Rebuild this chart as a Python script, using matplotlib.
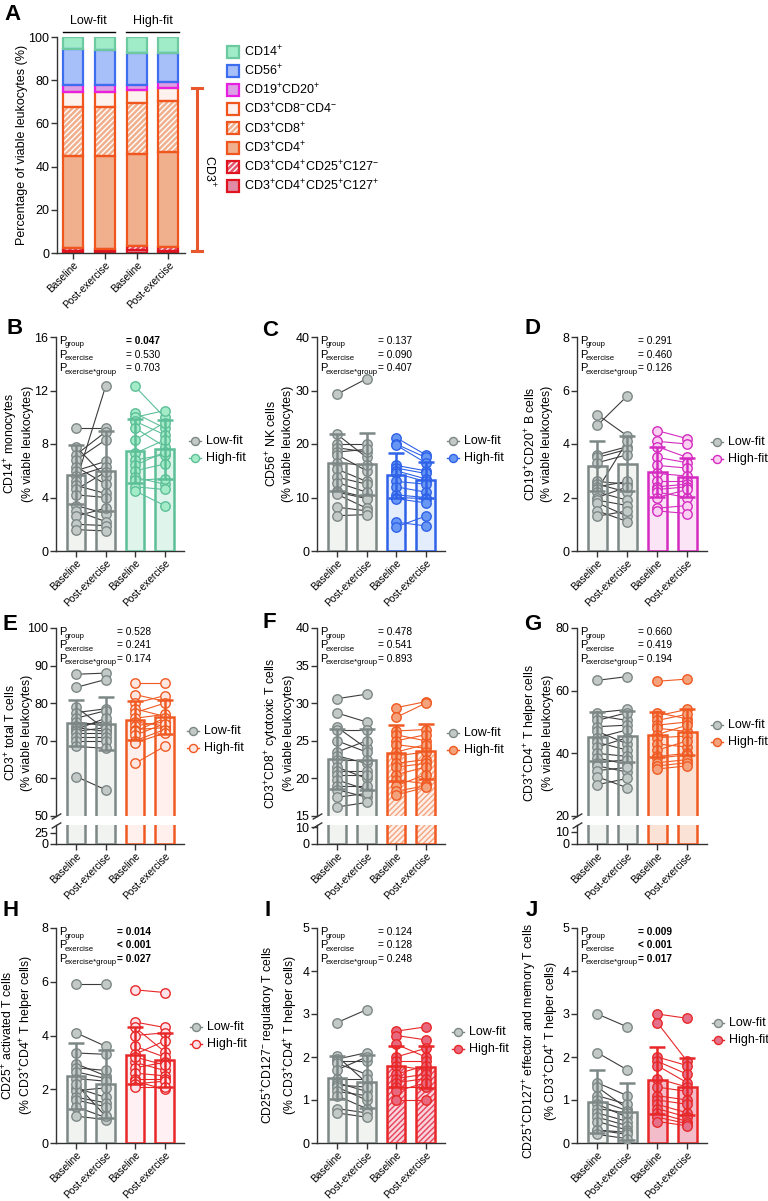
import numpy as np
import matplotlib.pyplot as plt
from matplotlib.patches import Rectangle

plt.rcParams['font.family'] = ['Liberation Sans', 'DejaVu Sans']
plt.rcParams['mathtext.fontset'] = 'custom'
plt.rcParams['mathtext.rm'] = 'Liberation Sans'
plt.rcParams['mathtext.it'] = 'Liberation Sans:italic'
plt.rcParams['mathtext.bf'] = 'Liberation Sans:bold'
plt.rcParams['hatch.linewidth'] = 1.0

W, H = 768, 1201


def rect(x0, y0, x1, y1):
    # pixel box -> figure fraction
    return [x0 / W, 1 - y1 / H, (x1 - x0) / W, (y1 - y0) / H]


def sup(s):
    return r'$^\mathregular{' + s + '}$'


# ---------------------------------------------------------------- data
timepoints = ['Baseline', 'Post-exercise', 'Baseline', 'Post-exercise']

# panel A, % of viable leukocytes, stacked bottom -> top
A_cd127pos = [0.9, 0.8, 1.2, 1.1]
A_cd127neg = [1.4, 1.1, 1.9, 1.7]
A_cd4 = [42.7, 42.9, 42.7, 43.8]
A_cd8 = [22.6, 22.9, 23.8, 23.9]
A_dn = [7.1, 7.0, 5.7, 5.7]
A_cd19 = [2.9, 2.9, 2.6, 3.0]
A_cd56 = [16.8, 16.5, 14.7, 13.4]
A_cd14 = [5.6, 5.9, 7.4, 7.4]

# panels B-J: individual subjects (baseline / post) and mean, SD per bar
B_low_base = [9.2, 7.8, 7.2, 6.8, 6.3, 6.0, 5.6, 5.2, 4.9, 4.6, 4.2, 3.4, 3.0, 2.6, 2.0, 1.6]
B_low_post = [9.2, 5.5, 8.9, 8.3, 5.0, 6.7, 6.3, 12.3, 4.3, 5.9, 4.0, 2.8, 2.2, 3.2, 1.9, 1.5]
B_high_base = [12.3, 10.3, 10.0, 9.7, 9.2, 8.3, 7.3, 6.8, 6.4, 6.0, 5.5, 5.3, 4.8, 4.5]
B_high_post = [10.0, 9.2, 10.5, 8.7, 7.8, 9.6, 8.3, 7.2, 7.4, 6.5, 5.0, 5.4, 4.6, 3.4]
B_mean = [5.7, 6.0, 7.5, 7.6]
B_sd = [2.2, 3.0, 2.4, 2.2]

C_low_base = [29.3, 21.8, 20.0, 19.3, 18.5, 18.0, 16.5, 15.3, 13.8, 12.8, 11.3, 11.0, 10.6, 8.2, 6.6]
C_low_post = [32.2, 17.5, 20.0, 18.5, 19.0, 15.0, 16.0, 13.0, 12.5, 11.0, 10.0, 9.8, 8.0, 7.5, 6.8]
C_high_base = [21.2, 20.0, 19.8, 16.0, 15.5, 15.0, 14.5, 13.0, 12.0, 10.5, 10.0, 9.8, 5.4, 4.5]
C_high_post = [18.0, 17.5, 16.5, 15.0, 14.5, 13.5, 13.0, 12.5, 11.0, 10.0, 9.8, 9.0, 4.7, 6.5]
C_mean = [16.5, 16.3, 14.2, 13.3]
C_sd = [5.3, 5.8, 4.2, 3.4]

D_low_base = [5.1, 4.7, 3.6, 3.5, 3.3, 2.6, 2.5, 2.4, 2.3, 2.2, 2.0, 1.9, 1.8, 1.5, 1.3]
D_low_post = [4.3, 5.8, 3.9, 3.8, 3.6, 2.5, 2.2, 2.6, 4.1, 1.9, 2.4, 1.7, 1.3, 1.1, 1.5]
D_high_base = [4.5, 4.1, 3.9, 3.5, 3.2, 2.9, 2.6, 2.4, 2.3, 2.2, 2.0, 1.6, 1.5]
D_high_post = [4.2, 4.0, 3.5, 3.3, 3.1, 2.8, 2.6, 2.5, 2.4, 2.0, 2.3, 1.7, 1.4]
D_mean = [3.18, 3.26, 2.96, 2.76]
D_sd = [0.92, 1.03, 0.94, 0.73]

E_low_base = [87.7, 84.2, 79.0, 77.5, 76.0, 75.0, 74.0, 73.5, 73.0, 72.5, 72.0, 71.0, 70.0, 68.5, 60.5]
E_low_post = [88.0, 86.3, 73.0, 78.5, 78.0, 74.0, 75.0, 72.5, 76.0, 73.5, 72.0, 71.0, 70.0, 68.0, 57.0]
E_high_base = [85.5, 82.3, 80.0, 78.5, 77.5, 76.0, 75.0, 74.0, 73.0, 72.5, 71.5, 70.0, 69.5, 64.0]
E_high_post = [85.5, 80.5, 82.0, 76.5, 80.0, 77.0, 74.0, 75.0, 73.5, 76.0, 74.5, 73.0, 72.0, 68.5]
E_mean = [74.7, 74.6, 75.4, 76.4]
E_sd = [6.1, 7.0, 5.2, 4.5]

F_low_base = [30.6, 28.7, 26.8, 26.5, 25.0, 23.5, 23.0, 22.5, 21.5, 21.0, 20.5, 19.8, 19.0, 18.5, 17.5, 16.2]
F_low_post = [31.2, 27.5, 24.0, 26.5, 23.5, 25.0, 22.0, 22.5, 20.0, 21.0, 20.5, 18.5, 19.0, 17.5, 18.0, 16.8]
F_high_base = [29.4, 28.1, 26.3, 25.8, 25.0, 24.5, 23.5, 23.0, 22.0, 21.5, 20.5, 19.8, 19.0, 18.3, 17.8]
F_high_post = [30.2, 30.0, 26.5, 25.0, 25.8, 24.0, 24.5, 23.5, 22.5, 22.0, 21.5, 19.3, 20.5, 19.0, 18.8]
F_mean = [22.6, 22.5, 23.4, 23.6]
F_sd = [4.0, 4.1, 3.7, 3.7]

G_low_base = [63.3, 53.0, 52.0, 50.5, 48.5, 47.0, 45.0, 43.5, 42.0, 40.0, 38.5, 37.0, 36.0, 34.5, 32.5, 30.0]
G_low_post = [64.5, 54.0, 50.5, 53.0, 49.0, 43.0, 47.5, 41.0, 45.0, 39.0, 36.5, 38.0, 34.0, 35.5, 29.0, 32.0]
G_high_base = [63.0, 53.0, 52.0, 50.5, 49.0, 48.0, 46.0, 45.0, 43.0, 41.0, 39.0, 38.5, 37.0, 36.0, 35.0]
G_high_post = [63.7, 51.0, 54.0, 52.5, 50.0, 47.0, 49.0, 45.5, 42.0, 44.0, 40.0, 39.5, 38.0, 37.0, 36.0]
G_mean = [45.3, 45.4, 46.0, 46.8]
G_sd = [7.8, 8.2, 7.1, 7.3]

H_low_base = [5.9, 4.1, 3.35, 2.95, 2.8, 2.65, 2.4, 2.05, 1.95, 1.7, 1.6, 1.35, 1.0, 2.2]
H_low_post = [5.9, 3.6, 3.3, 2.5, 2.7, 2.4, 2.3, 1.7, 2.05, 1.5, 1.35, 0.95, 0.87, 1.0]
H_high_base = [5.7, 4.5, 4.3, 4.0, 3.6, 3.3, 3.0, 2.8, 2.6, 2.4, 2.3, 2.2, 2.1, 3.2]
H_high_post = [5.6, 4.3, 3.4, 4.1, 3.2, 3.8, 2.7, 3.0, 2.5, 2.4, 2.0, 2.3, 2.1, 2.9]
H_mean = [2.5, 2.2, 3.26, 3.1]
H_sd = [1.23, 1.27, 1.05, 1.0]

I_low_base = [2.8, 2.02, 1.95, 1.9, 1.85, 1.7, 1.5, 1.4, 1.35, 1.3, 1.2, 1.1, 0.8, 0.7]
I_low_post = [3.1, 1.4, 2.1, 1.9, 1.6, 2.0, 1.5, 1.2, 1.3, 1.0, 1.1, 0.8, 0.7, 0.6]
I_high_base = [2.6, 2.5, 2.3, 2.0, 1.9, 1.8, 1.6, 1.5, 1.4, 1.3, 1.2, 1.0]
I_high_post = [2.7, 2.4, 2.0, 2.2, 1.9, 1.7, 1.8, 1.6, 1.5, 1.3, 1.4, 1.0]
I_mean = [1.52, 1.43, 1.78, 1.76]
I_sd = [0.5, 0.62, 0.48, 0.49]

J_low_base = [3.0, 2.1, 1.4, 1.3, 1.1, 1.0, 0.9, 0.8, 0.7, 0.6, 0.5, 0.3, 0.3, 0.2]
J_low_post = [2.7, 1.7, 1.1, 0.8, 0.9, 0.75, 0.6, 0.7, 0.5, 0.4, 0.3, 0.25, 0.2, 0.1]
J_high_base = [3.0, 2.8, 2.0, 1.9, 1.8, 1.5, 1.3, 1.1, 1.0, 0.9, 0.8, 0.7, 0.6, 0.5]
J_high_post = [2.9, 1.9, 1.8, 1.6, 1.4, 1.3, 1.2, 1.0, 0.9, 0.7, 0.6, 0.5, 0.45, 0.4]
J_mean = [0.96, 0.73, 1.46, 1.31]
J_sd = [0.73, 0.66, 0.78, 0.66]

# p values (group, exercise, exercise*group)
B_p = ['= 0.047', '= 0.530', '= 0.703']
C_p = ['= 0.137', '= 0.090', '= 0.407']
D_p = ['= 0.291', '= 0.460', '= 0.126']
E_p = ['= 0.528', '= 0.241', '= 0.174']
F_p = ['= 0.478', '= 0.541', '= 0.893']
G_p = ['= 0.660', '= 0.419', '= 0.194']
H_p = ['= 0.014', '< 0.001', '= 0.027']
I_p = ['= 0.124', '= 0.128', '= 0.248']
J_p = ['= 0.009', '< 0.001', '= 0.017']

# ---------------------------------------------------------------- colours
GRAY = dict(face='#f1f3f1', edge='#7d8886', pt='#c3c9c7', ptedge='#7d8886', line='#3c3c3c', hatch=None)
GREEN = dict(face='#dff5ec', edge='#5cbf98', pt='#a4ecc8', ptedge='#5cbf98', line='#5cbf98', hatch=None)
BLUE = dict(face='#e3edfc', edge='#2f62e8', pt='#6898f4', ptedge='#2f62e8', line='#2f62e8', hatch=None)
MAGENTA = dict(face='#fbe4f6', edge='#d42cc0', pt='#fbd0f2', ptedge='#d42cc0', line='#d42cc0', hatch=None)
ORANGE_E = dict(face='#fff0ee', edge='#f05a22', pt='#fde6e0', ptedge='#f05a22', line='#f05a22', hatch=None)
ORANGE_F = dict(face='#fdf0ea', edge='#f05a22', pt='#f4a27c', ptedge='#f05a22', line='#f05a22', hatch='#f4a47e')
ORANGE_G = dict(face='#fbe2d6', edge='#f05a22', pt='#f4a27c', ptedge='#f05a22', line='#f05a22', hatch=None)
RED_H = dict(face='#fff0f3', edge='#e82828', pt='#fde2ea', ptedge='#e82828', line='#e82828', hatch=None)
RED_I = dict(face='#f8d4dc', edge='#e82828', pt='#e8687e', ptedge='#e82828', line='#e82828', hatch='#e8405a')
RED_J = dict(face='#f2bccb', edge='#e82828', pt='#e4708a', ptedge='#e82828', line='#e82828', hatch=None)

AXC = '#333333'
XLIM = (-0.68, 3.66)
BARW = 0.64

fig = plt.figure(figsize=(W / 100, H / 100), dpi=100)


def style(ax, bottom=True):
    for s in ['top', 'right']:
        ax.spines[s].set_visible(False)
    for s in ['left', 'bottom']:
        ax.spines[s].set_color(AXC)
        ax.spines[s].set_linewidth(1.0)
    ax.spines['bottom'].set_visible(bottom)
    ax.tick_params(length=4, width=1, color=AXC, labelsize=9, pad=1.5)
    ax.set_facecolor('none')
    ax.set_xlim(*XLIM)
    ax.set_xticks(range(4))
    if bottom:
        ax.set_xticklabels(timepoints, rotation=45, ha='right',
                           rotation_mode='anchor', fontsize=7.3)
        ax.tick_params(axis='x', pad=1)
    else:
        ax.tick_params(axis='x', bottom=False, labelbottom=False)


def bars(ax, means, sds, low, high, errors=True):
    for i in range(4):
        st = low if i < 2 else high
        if st['hatch']:
            ax.bar(i, means[i], BARW, color=st['face'], edgecolor=st['hatch'],
                   hatch='//////', linewidth=0, zorder=1)
        else:
            ax.bar(i, means[i], BARW, color=st['face'], linewidth=0, zorder=1)
        ax.bar(i, means[i], BARW, fill=False, edgecolor=st['edge'],
               linewidth=1.8, zorder=4)
        if errors:
            ax.errorbar(i, means[i], yerr=sds[i], fmt='none', ecolor=st['edge'],
                        elinewidth=1.8, capsize=5.5, capthick=1.8, zorder=4)


def points(ax, lb, lp, hb, hp, low, high):
    for x0, b, p, st in [(0, lb, lp, low), (2, hb, hp, high)]:
        for yb, yp in zip(b, p):
            ax.plot([x0, x0 + 1], [yb, yp], color=st['line'], lw=0.8, zorder=2)
        ax.plot([x0] * len(b), b, 'o', ms=6.8, mfc=st['pt'], mec=st['ptedge'], mew=1, zorder=3)
        ax.plot([x0 + 1] * len(p), p, 'o', ms=6.8, mfc=st['pt'], mec=st['ptedge'], mew=1, zorder=3)


# ---------------------------------------------------------------- panel A
axA = fig.add_axes(rect(57, 37, 185, 253))
style(axA)
axA.set_xlim(-0.5, 3.52)
axA.set_ylim(0, 100)
axA.set_yticks([0, 20, 40, 60, 80, 100])

A_layers = [
    (A_cd127pos, '#e08aa6', '#e0141e', None),
    (A_cd127neg, '#e4566e', '#e0141e', 'white'),
    (A_cd4, '#f0b08e', '#f0561e', None),
    (A_cd8, '#f0b08e', '#f0561e', 'white'),
    (A_dn, '#fdf2ee', '#f0561e', None),
    (A_cd19, '#dca0e6', '#e81ee0', None),
    (A_cd56, '#a8c0fa', '#3d6ef0', None),
    (A_cd14, '#a0ecc8', '#6cc9a0', None),
]
A_labels = ['CD3' + sup('+') + 'CD4' + sup('+') + 'CD25' + sup('+') + 'C127' + sup('+'),
            'CD3' + sup('+') + 'CD4' + sup('+') + 'CD25' + sup('+') + 'C127' + sup('-'),
            'CD3' + sup('+') + 'CD4' + sup('+'),
            'CD3' + sup('+') + 'CD8' + sup('+'),
            'CD3' + sup('+') + 'CD8' + sup('-') + 'CD4' + sup('-'),
            'CD19' + sup('+') + 'CD20' + sup('+'),
            'CD56' + sup('+'),
            'CD14' + sup('+')]
bottom = np.zeros(4)
xa = np.arange(4)
for vals, face, edge, hcol in A_layers:
    vals = np.array(vals)
    if hcol:
        axA.bar(xa, vals, 0.63, bottom=bottom, color=face, edgecolor=hcol,
                hatch='//////', linewidth=0, zorder=1)
    else:
        axA.bar(xa, vals, 0.63, bottom=bottom, color=face, linewidth=0, zorder=1)
    axA.bar(xa, vals, 0.63, bottom=bottom, fill=False, edgecolor=edge,
            linewidth=1.6, zorder=2)
    bottom = bottom + vals

# group headers
for x0, x1, lab in [(-0.32, 1.32, 'Low-fit'), (1.68, 3.32, 'High-fit')]:
    axA.plot([x0, x1], [102.5, 102.5], color='black', lw=1, clip_on=False)
    axA.text((x0 + x1) / 2, 107.5, lab, ha='center', va='center', fontsize=9)

# CD3+ bracket
cd3_top = max(np.cumsum([A_cd127pos, A_cd127neg, A_cd4, A_cd8, A_dn], axis=0)[-1])
axA.plot([3.9, 3.9], [1.0, cd3_top], color='#e8582c', lw=2.2, clip_on=False)
for yy in [1.0, cd3_top]:
    axA.plot([3.74, 4.06], [yy, yy], color='#e8582c', lw=2.2, clip_on=False)
axA.text(4.27, 38, 'CD3' + sup('+'), rotation=270, ha='center', va='center', fontsize=9)

# ---------------------------------------------------------------- panels B-J
cols = [(56, 184), (317, 445), (577, 707)]
panels = [
    dict(L='B', c=0, r=0, d=(B_low_base, B_low_post, B_high_base, B_high_post), m=B_mean, s=B_sd,
         st=GREEN, ylim=(0, 16), yt=[0, 4, 8, 12, 16], p=B_p, bold=[True, False, False], eq=70,
         leg=(195, 441), lab=('CD14' + sup('+') + ' monocytes', '(% viable leukocytes)'),
         lx=18, ly=444, Lxy=(7, 329)),
    dict(L='C', c=1, r=0, d=(C_low_base, C_low_post, C_high_base, C_high_post), m=C_mean, s=C_sd,
         st=BLUE, ylim=(0, 40), yt=[0, 10, 20, 30, 40], p=C_p, bold=[False] * 3, eq=61,
         leg=(453, 441), lab=('CD56' + sup('+') + ' NK cells', '(% viable leukocytes)'),
         lx=279, ly=444, Lxy=(262, 330)),
    dict(L='D', c=2, r=0, d=(D_low_base, D_low_post, D_high_base, D_high_post), m=D_mean, s=D_sd,
         st=MAGENTA, ylim=(0, 8), yt=[0, 2, 4, 6, 8], p=D_p, bold=[False] * 3, eq=61,
         leg=(717, 442), lab=('CD19' + sup('+') + 'CD20' + sup('+') + ' B cells', '(% viable leukocytes)'),
         lx=538, ly=444, Lxy=(524, 329)),
    dict(L='E', c=0, r=1, d=(E_low_base, E_low_post, E_high_base, E_high_post), m=E_mean, s=E_sd,
         st=ORANGE_E, ylim=(50, 100), yt=[50, 60, 70, 80, 90, 100], blim=(0, 43), bt=[0, 25],
         p=E_p, bold=[False] * 3, eq=61,
         leg=(193, 731), lab=('CD3' + sup('+') + ' total T cells', '(% viable leukocytes)'),
         lx=18, ly=733, Lxy=(3, 625)),
    dict(L='F', c=1, r=1, d=(F_low_base, F_low_post, F_high_base, F_high_post), m=F_mean, s=F_sd,
         st=ORANGE_F, ylim=(15, 40), yt=[15, 20, 25, 30, 35, 40], blim=(0, 11.2), bt=[0, 10],
         p=F_p, bold=[False] * 3, eq=61,
         leg=(453, 733), lab=('CD3' + sup('+') + 'CD8' + sup('+') + ' cytotoxic T cells', '(% viable leukocytes)'),
         lx=279, ly=733, Lxy=(262, 623)),
    dict(L='G', c=2, r=1, d=(G_low_base, G_low_post, G_high_base, G_high_post), m=G_mean, s=G_sd,
         st=ORANGE_G, ylim=(20, 80), yt=[20, 40, 60, 80], blim=(0, 15.8), bt=[0, 10],
         p=G_p, bold=[False] * 3, eq=61,
         leg=(717, 725), lab=('CD3' + sup('+') + 'CD4' + sup('+') + ' T helper cells', '(% viable leukocytes)'),
         lx=538, ly=733, Lxy=(524, 624)),
    dict(L='H', c=0, r=2, d=(H_low_base, H_low_post, H_high_base, H_high_post), m=H_mean, s=H_sd,
         st=RED_H, ylim=(0, 8), yt=[0, 2, 4, 6, 8], p=H_p, bold=[True] * 3, eq=61,
         leg=(196, 1027), lab=('CD25' + sup('+') + ' activated T cells',
                               '(% CD3' + sup('+') + 'CD4' + sup('+') + ' T helper cells)'),
         lx=18, ly=1035, Lxy=(3, 911)),
    dict(L='I', c=1, r=2, d=(I_low_base, I_low_post, I_high_base, I_high_post), m=I_mean, s=I_sd,
         st=RED_I, ylim=(0, 5), yt=[0, 1, 2, 3, 4, 5], p=I_p, bold=[False] * 3, eq=61,
         leg=(458, 1032), lab=('CD25' + sup('+') + 'CD127' + sup('-') + ' regulatory T cells',
                               '(% CD3' + sup('+') + 'CD4' + sup('+') + ' T helper cells)'),
         lx=280, ly=1035, Lxy=(264, 911)),
    dict(L='J', c=2, r=2, d=(J_low_base, J_low_post, J_high_base, J_high_post), m=J_mean, s=J_sd,
         st=RED_J, ylim=(0, 5), yt=[0, 1, 2, 3, 4, 5], p=J_p, bold=[True] * 3, eq=61,
         leg=(718, 1023), lab=('CD25' + sup('+') + 'CD127' + sup('+') + ' effector and memory T cells',
                               '(% CD3' + sup('+') + 'CD4' + sup('+') + ' T helper cells)'),
         lx=541, ly=1041, Lxy=(526, 911)),
]
rows = [(337, 551), (628, 816), (928, 1143)]
BROKEN_BOTTOM = (825, 844)

ov = fig.add_axes([0, 0, 1, 1], zorder=10)
ov.set_xlim(0, W)
ov.set_ylim(H, 0)
ov.axis('off')

for pn in panels:
    x0, x1 = cols[pn['c']]
    y0, y1 = rows[pn['r']]
    broken = 'blim' in pn
    ax = fig.add_axes(rect(x0, y0, x1, y1))
    style(ax, bottom=not broken)
    ax.set_ylim(*pn['ylim'])
    ax.set_yticks(pn['yt'])
    bars(ax, pn['m'], pn['s'], GRAY, pn['st'])
    points(ax, *pn['d'], GRAY, pn['st'])
    if broken:
        axb = fig.add_axes(rect(x0, BROKEN_BOTTOM[0], x1, BROKEN_BOTTOM[1]))
        style(axb)
        axb.set_ylim(*pn['blim'])
        axb.set_yticks(pn['bt'])
        bars(axb, pn['m'], pn['s'], GRAY, pn['st'], errors=False)
        kw = dict(marker=[(-1, -0.6), (1, 0.6)], markersize=7, linestyle='none',
                  color=AXC, mec=AXC, mew=1, clip_on=False)
        ax.plot([0], [0], transform=ax.transAxes, **kw)
        axb.plot([0], [1], transform=axb.transAxes, **kw)

    # p values: "P" with a small subscript, then the value column
    names = ['group', 'exercise', 'exercise*group']
    for k in range(3):
        yb = y0 + 7 + 13.5 * k
        ov.text(x0 + 3, yb, 'P', fontsize=8, va='baseline', ha='left')
        ov.text(x0 + 9, yb + 2.5, names[k], fontsize=5.6, va='baseline', ha='left')
        ov.text(x0 + pn['eq'], yb, pn['p'][k], fontsize=7.3, va='baseline', ha='left',
                fontweight='bold' if pn['bold'][k] else 'normal')

    # legend
    mx, my = pn['leg']
    for k, (st, lab) in enumerate([(GRAY, 'Low-fit'), (pn['st'], 'High-fit')]):
        yy = my + 17 * k
        ov.plot([mx - 6, mx + 6], [yy, yy], color=st['line'] if k else st['edge'], lw=1)
        ov.plot([mx], [yy], 'o', ms=5.8, mfc=st['pt'], mec=st['ptedge'], mew=1)
        ov.text(mx + 11, yy, lab, fontsize=9, va='center', ha='left')

    # y label and panel letter
    ov.text(pn['lx'], pn['ly'], pn['lab'][0] + '\n' + pn['lab'][1], rotation=90,
            ha='center', va='center', multialignment='center', fontsize=8.8, linespacing=1.25)
    ov.text(pn['Lxy'][0], pn['Lxy'][1], pn['L'], fontsize=16, fontweight='bold',
            ha='left', va='center')

# panel A extras
ov.text(4, 14, 'A', fontsize=16, fontweight='bold', ha='left', va='center')
ov.text(22, 145, 'Percentage of viable leukocytes (%)', rotation=90, ha='center',
        va='center', fontsize=9)
for k, (vals, face, edge, hcol) in enumerate(A_layers[::-1]):
    yy = 52 + 19.1 * k
    ov.add_patch(Rectangle((227, yy - 6), 12, 12, facecolor=face,
                           edgecolor=hcol if hcol else face, hatch='//////' if hcol else None,
                           linewidth=0))
    ov.add_patch(Rectangle((227, yy - 6), 12, 12, fill=False, edgecolor=edge, linewidth=1.6))
    ov.text(244, yy, A_labels[::-1][k], fontsize=9, va='center', ha='left')

fig.savefig('out.png', dpi=100)
